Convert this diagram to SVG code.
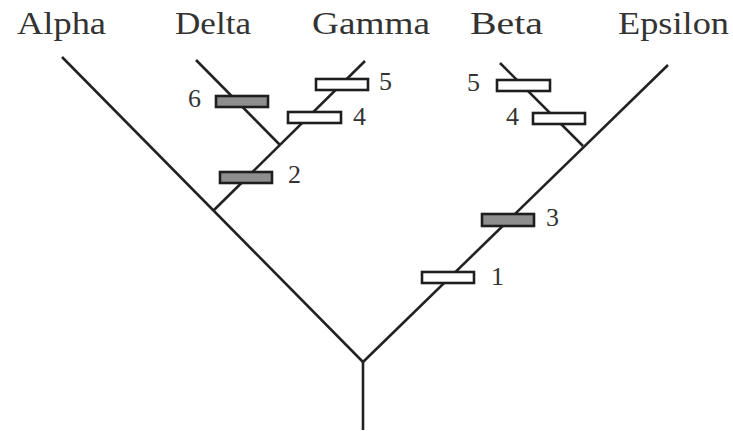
<svg xmlns="http://www.w3.org/2000/svg" width="733" height="431" viewBox="0 0 733 431">
<style>
.br{stroke:#222;stroke-width:2.6;fill:none;stroke-linecap:butt}
.bar{stroke:#1e1e1e;stroke-width:2.6}
.g{fill:#8e8e8e}
.w{fill:#fff}
.lab{font-family:"Liberation Serif","Times New Roman",serif;font-size:32px;fill:#333}
.num{font-family:"Liberation Serif","Times New Roman",serif;font-size:26px;fill:#333}
</style>
<rect width="733" height="431" fill="#fff"/>
<g id="connectors">
<line class="br" x1="363" y1="362" x2="363" y2="430"/>
<line class="br" x1="363" y1="362" x2="62" y2="57"/>
<line class="br" x1="363" y1="362" x2="668" y2="65"/>
<line class="br" x1="214" y1="210" x2="365" y2="61"/>
<line class="br" x1="280" y1="145" x2="196" y2="60"/>
<line class="br" x1="583" y1="146" x2="500" y2="63"/>
</g>
<g id="taxa">
<g id="alpha"><text class="lab" x="17" y="34" textLength="89" lengthAdjust="spacingAndGlyphs">Alpha</text></g>
<g id="delta"><text class="lab" x="175" y="34" textLength="76" lengthAdjust="spacingAndGlyphs">Delta</text></g>
<g id="gamma"><text class="lab" x="312" y="34" textLength="118" lengthAdjust="spacingAndGlyphs">Gamma</text></g>
<g id="beta"><text class="lab" x="470" y="34" textLength="73" lengthAdjust="spacingAndGlyphs">Beta</text></g>
<g id="epsilon"><text class="lab" x="618" y="34" textLength="111" lengthAdjust="spacingAndGlyphs">Epsilon</text></g>
</g>
<g id="characters">
<g id="c6"><rect class="bar g" x="216" y="96" width="52" height="11"/><text class="num" x="188" y="107">6</text></g>
<g id="c5g"><rect class="bar w" x="316" y="79" width="52" height="11"/><text class="num" x="379" y="90">5</text></g>
<g id="c4g"><rect class="bar w" x="288" y="112" width="53" height="11"/><text class="num" x="353" y="125">4</text></g>
<g id="c2"><rect class="bar g" x="220" y="172" width="52" height="11"/><text class="num" x="288" y="183">2</text></g>
<g id="c5b"><rect class="bar w" x="497" y="80" width="53" height="11"/><text class="num" x="467" y="91">5</text></g>
<g id="c4b"><rect class="bar w" x="533" y="113" width="52" height="11"/><text class="num" x="506" y="125">4</text></g>
<g id="c3"><rect class="bar g" x="482" y="214" width="52" height="12"/><text class="num" x="546" y="226">3</text></g>
<g id="c1"><rect class="bar w" x="422" y="272" width="52" height="11"/><text class="num" x="491" y="285">1</text></g>
</g>
</svg>
